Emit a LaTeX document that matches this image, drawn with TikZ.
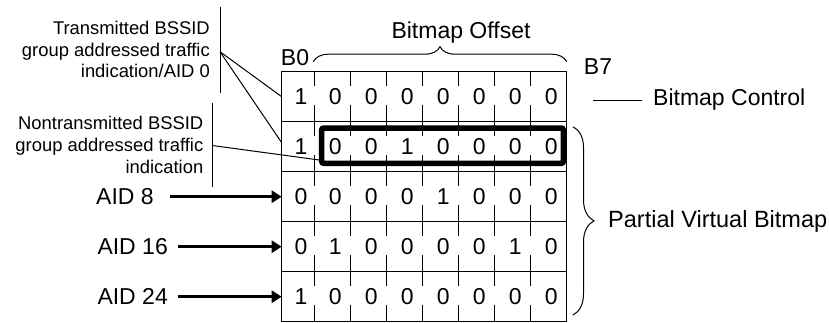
\documentclass[tikz,border=0pt]{standalone}
\usepackage{fontspec}
\setmainfont{Liberation Sans}
\usetikzlibrary{decorations.pathreplacing,arrows.meta}
\begin{document}
\begin{tikzpicture}[x=1pt,y=-1pt,
  big/.style={font=\fontsize{23}{27}\selectfont, inner sep=0pt},
  small/.style={font=\fontsize{18.4}{21.7}\selectfont, inner sep=0pt, align=right},
  digit/.style={font=\fontsize{23}{27}\selectfont, inner sep=0pt},
  rowbox/.style={draw, line width=1.3pt, minimum width=284.6pt, minimum height=50pt, inner sep=0pt, outer sep=0pt, anchor=north west},
  selbox/.style={draw, line width=5.5pt, rounded corners=2pt, minimum width=241.6pt, minimum height=35.3pt, inner sep=0pt, outer sep=0pt, anchor=north west},
  tickline/.style={line width=1.2pt},
  leader/.style={line width=1pt},
  arr/.style={line width=2.6pt, -{Triangle[length=10pt,width=12pt]}},
  bracestyle/.style={decorate, line width=1pt}
]
\useasboundingbox (0,0) rectangle (829,322);

% rows of the bitmap
\foreach \r in {1,...,5}
  \node[rowbox] (row\r) at (281.7, 71.7+50*\r-50) {};

% ticks at column boundaries
\foreach \r in {1,...,5}{
  \foreach \xb in {314.3,350.3,386.3,422.3,458.3,494.3,530.3}{
    \draw[tickline] (\xb, 71.7+50*\r-50) -- ++(0,14.5);
    \draw[tickline] (\xb, 71.7+50*\r) -- ++(0,-17);
  }
}

% digits
\foreach \r/\vals in {1/{1,0,0,0,0,0,0,0},2/{1,0,0,1,0,0,0,0},3/{0,0,0,0,1,0,0,0},4/{0,1,0,0,0,0,1,0},5/{1,0,0,0,0,0,0,0}}{
  \foreach \v [count=\c] in \vals {
    \pgfmathsetmacro{\xx}{\c==1 ? 301 : 335.3+36*(\c-2)}
    \node[digit] (d\r-\c) at (\xx, 96.7+50*\r-50) {\v};
  }
}

% highlighted box
\node[selbox] (sel) at (321.7,128) {};

% top labels
\node[big] (b0) at (295,57.5) {B0};
\node[big] (b7) at (598,67) {B7};
\node[big] (offs) at (461,33) {Bitmap Offset};
\coordinate (bra) at (313.3,61.7);
\coordinate (brb) at (566.7,61.7);
\draw[bracestyle, decoration={brace, amplitude=15pt}] (bra) -- (brb);

% bitmap control
\node[big, anchor=west] (bc) at (653,100) {Bitmap Control};
\coordinate (bcs) at (593.3,100);
\draw[leader] (bcs) -- ([xshift=-11.3pt]bc.west);

% partial virtual bitmap
\coordinate (pva) at (573,126.7);
\coordinate (pvb) at (573,315);
\draw[bracestyle, decoration={brace, amplitude=21pt}] (pva) -- (pvb);
\node[big, font=\fontsize{23.5}{27}\selectfont, anchor=west] (pvb-label) at (608,221.7) {Partial Virtual Bitmap};

% left labels
\node[small, anchor=east] (t1) at (210,49.5) {Transmitted BSSID\\group addressed traffic\\indication/AID 0};
\coordinate (v1a) at (220,6.7);
\coordinate (v1b) at (220,92.7);
\coordinate (v1m) at (220,51.7);
\draw[leader] (v1a) -- (v1b);
\draw[leader] (v1m) -- (row1.west);
\draw[leader] (v1m) -- ([yshift=4pt]row2.west);

\node[small, anchor=east] (t2) at (203.5,145) {Nontransmitted BSSID\\group addressed traffic\\indication};
\coordinate (v2a) at (212.3,103.3);
\coordinate (v2b) at (212.3,186.7);
\coordinate (v2m) at (212.3,145.5);
\draw[leader] (v2a) -- (v2b);
\draw[leader] (v2m) -- ([xshift=-2.5pt,yshift=3.3pt]sel.south west);

% AID arrows
\node[big, anchor=west] (aid8) at (96,196.7) {AID 8};
\node[big, anchor=west] (aid16) at (97.3,246.7) {AID 16};
\node[big, anchor=west] (aid24) at (97.3,296.7) {AID 24};
\coordinate (s8) at (170,196.7);
\coordinate (s16) at (178.3,246.7);
\coordinate (s24) at (178.3,296.7);
\draw[arr] (s8) -- (row3.west);
\draw[arr] (s16) -- (row4.west);
\draw[arr] (s24) -- (row5.west);
\end{tikzpicture}
\end{document}
